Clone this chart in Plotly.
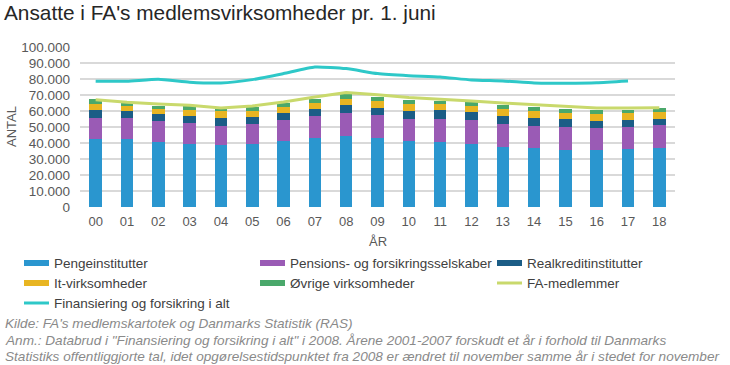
import plotly.graph_objects as go

years = ["00", "01", "02", "03", "04", "05", "06", "07", "08", "09",
         "10", "11", "12", "13", "14", "15", "16", "17", "18"]

pengeinstitutter = [42300, 42800, 40600, 39600, 38600, 39200, 41100, 43100, 44600, 43100,
                    41200, 40900, 39600, 37300, 36900, 35900, 35400, 36100, 37100]
pensions = [13600, 12700, 13000, 12900, 12300, 12500, 13100, 13600, 14400, 14200,
            14000, 13900, 14600, 14400, 14000, 14100, 13800, 13900, 14000]
realkredit = [4600, 4300, 4800, 4600, 5000, 4600, 4800, 4600, 4600, 4800,
              4800, 5600, 5200, 5000, 5000, 4800, 4800, 4600, 3700]
it_virksomheder = [3600, 3200, 3100, 3300, 3900, 3500, 3500, 3700, 3900, 4000,
                   4200, 3800, 3700, 4400, 4100, 4200, 4400, 4400, 4400]
oevrige = [3200, 2100, 1600, 2500, 1500, 2700, 2700, 2700, 2900, 2700,
           2900, 2300, 2400, 2500, 2500, 2100, 2200, 1900, 2700]
fa_medlemmer = [67100, 65400, 64400, 63600, 61900, 63100, 65600, 68800, 71500, 70200,
                68400, 67500, 66200, 65000, 64000, 62700, 61900, 61900, 62100]
finans_i_alt = [78600, 78600, 79800, 78000, 77500, 79600, 83400, 87500, 86500, 83400,
                82100, 81300, 79400, 78800, 77500, 77400, 77700, 78800, None]

y_ticks = [0, 10000, 20000, 30000, 40000, 50000, 60000, 70000, 80000, 90000, 100000]

names = ["Pengeinstitutter", "Pensions- og forsikringsselskaber", "Realkreditinstitutter",
         "It-virksomheder", "Øvrige virksomheder", "FA-medlemmer",
         "Finansiering og forsikring i alt"]

title_text = "Ansatte i FA's medlemsvirksomheder pr. 1. juni"
x_title = "ÅR"
y_title = "ANTAL"
notes = [
    "Kilde: FA's medlemskartotek og Danmarks Statistik (RAS)",
    "Anm.: Databrud i \"Finansiering og forsikring i alt\" i 2008. Årene 2001-2007 forskudt et år i forhold til Danmarks",
    "Statistiks offentliggjorte tal, idet opgørelsestidspunktet fra 2008 er ændret til november samme år i stedet for november",
]

colors = ["#2a96cf", "#9a5bb5", "#1b5d86", "#e8b522", "#4aa86b", "#c9d96c", "#2ec8c8"]
FONT = "Liberation Sans, Arial, sans-serif"

W, H = 730, 365
L, R, T, B = 80, 55, 47, 158
PW, PH = W - L - R, H - T - B


def px(x):
    return (x - L) / PW


def py(y):
    return (H - B - y) / PH


fig = go.Figure()
bar_series = [pengeinstitutter, pensions, realkredit, it_virksomheder, oevrige]
for i, vals in enumerate(bar_series):
    fig.add_trace(go.Bar(x=years, y=vals, name=names[i], marker_color=colors[i],
                         marker_line_width=0, showlegend=False))

fig.add_trace(go.Scatter(x=years, y=fa_medlemmer, name=names[5], mode="lines",
                         line=dict(color=colors[5], width=3), showlegend=False))
fig.add_trace(go.Scatter(x=years, y=finans_i_alt, name=names[6], mode="lines",
                         line=dict(color=colors[6], width=3, shape="spline", smoothing=0.5),
                         showlegend=False))

fig.update_layout(
    width=W, height=H,
    margin=dict(l=L, r=R, t=T, b=B, autoexpand=False),
    barmode="stack", bargap=0.6,
    plot_bgcolor="white", paper_bgcolor="white",
    separators=",.",
    font=dict(family=FONT, size=13, color="#595959"),
)
fig.update_xaxes(showgrid=False, showline=False, zeroline=False, ticks="",
                 tickfont=dict(size=13, color="#595959"), ticklabelstandoff=5)
fig.update_yaxes(range=[0, 100000], tickvals=y_ticks, tickformat=",d",
                 showgrid=True, gridcolor="#d9d9d9", gridwidth=1.5,
                 zeroline=False, showline=False, ticks="",
                 tickfont=dict(size=13.5, color="#595959"), ticklabelstandoff=9)

ann = []
shapes = []
# title
ann.append(dict(text=title_text, x=px(3), y=py(0), xref="paper", yref="paper",
                xanchor="left", yanchor="top", showarrow=False, borderpad=0,
                font=dict(size=20.8, color="#262626", family=FONT)))
# axis titles
ann.append(dict(text=x_title, x=px(378), y=py(241), xref="paper", yref="paper",
                xanchor="center", yanchor="middle", showarrow=False,
                font=dict(size=13, color="#595959", family=FONT)))
ann.append(dict(text=y_title, x=px(11), y=py(127), xref="paper", yref="paper",
                xanchor="center", yanchor="middle", showarrow=False, textangle=-90,
                font=dict(size=13, color="#595959", family=FONT)))

# legend (custom)
legend_items = [
    (24, 263, 0, "bar"), (260, 263, 1, "bar"), (497, 263, 2, "bar"),
    (24, 283, 3, "bar"), (260, 283, 4, "bar"), (497, 283, 5, "line"),
    (24, 303, 6, "line"),
]
for x0, yc, idx, kind in legend_items:
    if kind == "bar":
        shapes.append(dict(type="rect", xref="paper", yref="paper",
                           x0=px(x0), x1=px(x0 + 25), y0=py(yc + 3), y1=py(yc - 3),
                           fillcolor=colors[idx], line=dict(width=0)))
    else:
        shapes.append(dict(type="line", xref="paper", yref="paper",
                           x0=px(x0), x1=px(x0 + 25), y0=py(yc), y1=py(yc),
                           line=dict(color=colors[idx], width=3)))
    ann.append(dict(text=names[idx], x=px(x0 + 28), y=py(yc), xref="paper", yref="paper",
                    xanchor="left", yanchor="middle", showarrow=False,
                    font=dict(size=13.5, color="#404040", family=FONT)))

# footnotes
for ny, t in zip([323, 340, 356], notes):
    ann.append(dict(text="<i>" + t + "</i>", x=px(3), y=py(ny), xref="paper", yref="paper",
                    xanchor="left", yanchor="middle", showarrow=False,
                    font=dict(size=13.6, color="#8a8a8a", family=FONT)))

fig.update_layout(annotations=ann, shapes=shapes)
fig.write_html("out.html", config={"displayModeBar": False},
               post_script="document.body.style.margin='0px';document.body.style.padding='0px';")
